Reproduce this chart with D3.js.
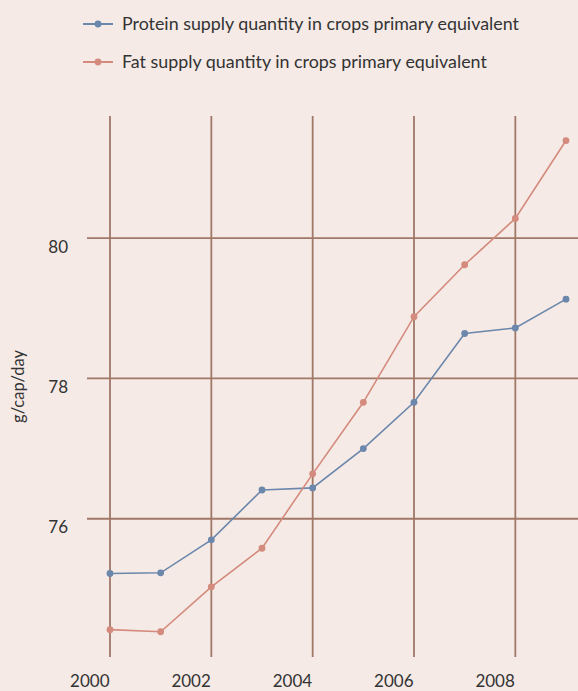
<!DOCTYPE html>
<html>
<head>
<meta charset="utf-8">
<script src="https://cdn.jsdelivr.net/npm/d3@7"></script>
<style>
  html, body { margin: 0; padding: 0; background: #f5eae6; }
  svg { display: block; }
  text { font-family: Lato, "Open Sans", sans-serif; fill: #333; }
</style>
</head>
<body>
<div id="chart"></div>
<script>
const years = [2000, 2001, 2002, 2003, 2004, 2005, 2006, 2007, 2008, 2009];
const protein = [75.22, 75.23, 75.70, 76.41, 76.44, 77.00, 77.66, 78.64, 78.72, 79.13];
const fat = [74.42, 74.39, 75.03, 75.58, 76.64, 77.66, 78.88, 79.62, 80.28, 81.39];
const seriesNames = ["Protein supply quantity in crops primary equivalent", "Fat supply quantity in crops primary equivalent"];
const seriesColors = ["#6b87ab", "#d48a7c"];
const xTicks = [2000, 2002, 2004, 2006, 2008];
const yTicks = [76, 78, 80];
const yTitle = "g/cap/day";

const W = 578, H = 691;
const FS = 17;
const svg = d3.select("#chart").append("svg").attr("width", W).attr("height", H);
svg.append("rect").attr("width", W).attr("height", H).attr("fill", "#f5eae6");

const x = d3.scaleLinear().domain([2000, 2009]).range([110, 566]);
const y = d3.scaleLinear().domain([74.03, 81.74]).range([657, 116]);
const gridColor = "#a07868";

// horizontal gridlines
svg.append("g").selectAll("line").data(yTicks).join("line")
  .attr("x1", 87).attr("x2", W)
  .attr("y1", d => y(d)).attr("y2", d => y(d))
  .attr("stroke", gridColor).attr("stroke-width", 1.8);
// vertical gridlines
svg.append("g").selectAll("line").data(xTicks).join("line")
  .attr("x1", d => x(d)).attr("x2", d => x(d))
  .attr("y1", y.range()[1]).attr("y2", y.range()[0])
  .attr("stroke", gridColor).attr("stroke-width", 1.8);

// y tick labels
svg.append("g").selectAll("text").data(yTicks).join("text")
  .attr("x", 68).attr("y", d => y(d) + 14.5)
  .attr("text-anchor", "end").attr("font-size", FS)
  .text(d => d);
// x tick labels
svg.append("g").selectAll("text").data(xTicks).join("text")
  .attr("x", d => x(d) - 0.5).attr("y", 687)
  .attr("text-anchor", "end").attr("font-size", FS)
  .text(d => d);
// y title
const yt = svg.append("text")
  .attr("transform", "translate(24,386.5) rotate(-90)")
  .attr("text-anchor", "middle").attr("font-size", 16)
  .text(yTitle);
const ytw = yt.node().getComputedTextLength();
yt.attr("font-size", 16 * 73 / ytw);

const seriesData = [protein, fat];
const line = d3.line().x((d, i) => x(years[i])).y(d => y(d));
seriesData.forEach((vals, si) => {
  svg.append("path").datum(vals)
    .attr("d", line).attr("fill", "none")
    .attr("stroke", seriesColors[si]).attr("stroke-width", 1.6);
  svg.append("g").selectAll("circle").data(vals).join("circle")
    .attr("cx", (d, i) => x(years[i])).attr("cy", d => y(d)).attr("r", 3.4)
    .attr("fill", seriesColors[si]);
});

// legend
const legendY = [24, 62];
const legendW = [397, 365];
seriesNames.forEach((name, i) => {
  const g = svg.append("g");
  g.append("line").attr("x1", 83).attr("x2", 113).attr("y1", legendY[i]).attr("y2", legendY[i])
    .attr("stroke", seriesColors[i]).attr("stroke-width", 2);
  g.append("circle").attr("cx", 98).attr("cy", legendY[i]).attr("r", 3.4).attr("fill", seriesColors[i]);
  const t = g.append("text").attr("x", 122).attr("y", legendY[i]).attr("dy", "0.35em")
    .attr("font-size", 16).text(name);
  const w = t.node().getComputedTextLength();
  t.attr("font-size", 16 * legendW[i] / w);
});
</script>
</body>
</html>
